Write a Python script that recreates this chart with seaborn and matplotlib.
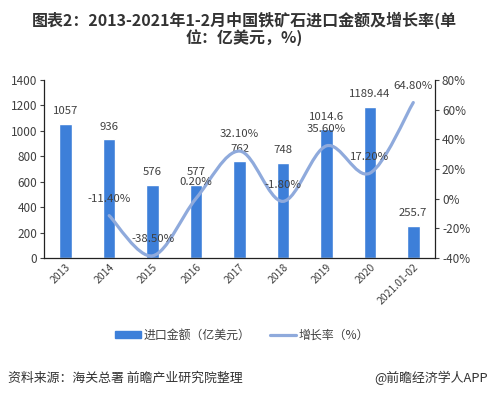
import matplotlib
matplotlib.use("Agg")
import matplotlib.pyplot as plt
from matplotlib.path import Path
from matplotlib.patches import PathPatch
from matplotlib.lines import Line2D
from matplotlib.ticker import FuncFormatter
import pandas as pd
import seaborn as sns

# data
years = ["2013", "2014", "2015", "2016", "2017", "2018", "2019", "2020", "2021.01-02"]
amount = [1057, 936, 576, 577, 762, 748, 1014.6, 1189.44, 255.7]
amount_labels = ["1057", "936", "576", "577", "762", "748", "1014.6", "1189.44", "255.7"]
growth_years = years[1:]
growth = [-11.40, -38.50, 0.20, 32.10, -1.80, 35.60, 17.20, 64.80]

bar_color = "#3D7FD9"
line_color = "#8FAADC"
text_color = "#404040"

sns.set_style("white")
plt.rcParams["font.family"] = ["Noto Sans CJK SC", "DejaVu Sans"]
plt.rcParams["axes.unicode_minus"] = False

df = pd.DataFrame({"year": years, "amount": amount})

fig = plt.figure(figsize=(4.89, 3.97), dpi=100)
ax = fig.add_axes([0.090, 0.350, 0.7996, 0.4485])
sns.barplot(data=df, x="year", y="amount", color=bar_color, width=0.29,
            saturation=1, ax=ax)
ax.set_ylim(0, 1400)
ax.set_yticks(range(0, 1401, 200))
ax.set_xlim(-0.5, len(years) - 0.5)
ax.set_xlabel("")
ax.set_ylabel("")
ax.tick_params(axis="y", labelsize=8.5, colors=text_color, length=3, width=0.8,
               direction="out", pad=2)
ax.tick_params(axis="x", labelsize=7.5, colors=text_color, length=0, pad=3)
for lab in ax.get_xticklabels():
    lab.set_rotation(45)
    lab.set_ha("right")
    lab.set_rotation_mode("anchor")
for s in ["left", "bottom"]:
    ax.spines[s].set_color("#222222")
    ax.spines[s].set_linewidth(0.9)
ax.spines["top"].set_visible(False)
ax.spines["right"].set_visible(False)

for i, (v, t) in enumerate(zip(amount, amount_labels)):
    ax.annotate(t, (i, v), xytext=(0, 9), textcoords="offset points",
                ha="center", va="center", fontsize=8.2, color=text_color)

ax2 = ax.twinx()
ax2.set_ylim(-40, 80)
ax2.set_yticks(range(-40, 81, 20))
ax2.yaxis.set_major_formatter(FuncFormatter(lambda v, p: f"{int(v)}%"))
ax2.tick_params(axis="y", labelsize=8.5, colors=text_color, length=3, width=0.8,
                direction="out", pad=2)
for s in ["top", "left", "bottom"]:
    ax2.spines[s].set_visible(False)
ax2.spines["right"].set_color("#222222")
ax2.spines["right"].set_linewidth(0.9)

# smoothed line (cubic bezier through the growth points)
xs = [years.index(y) for y in growth_years]
pts = list(zip(xs, growth))
n = len(pts)
verts = [pts[0]]
codes = [Path.MOVETO]
for i in range(n - 1):
    p0 = pts[i - 1] if i > 0 else pts[i]
    p1 = pts[i]
    p2 = pts[i + 1]
    p3 = pts[i + 2] if i + 2 < n else pts[i + 1]
    c1 = (p1[0] + (p2[0] - p0[0]) / 6, p1[1] + (p2[1] - p0[1]) / 6)
    c2 = (p2[0] - (p3[0] - p1[0]) / 6, p2[1] - (p3[1] - p1[1]) / 6)
    verts += [c1, c2, p2]
    codes += [Path.CURVE4] * 3
ax2.add_patch(PathPatch(Path(verts, codes), facecolor="none",
                        edgecolor=line_color, linewidth=2.3, capstyle="round"))

for x, g in zip(xs, growth):
    ax2.annotate(f"{g:.2f}%", (x, g), xytext=(0, 12), textcoords="offset points",
                 ha="center", va="center", fontsize=8.2, color=text_color)

# legend
handles = [
    plt.Rectangle((0, 0), 1, 1, color=bar_color),
    Line2D([0], [0], color=line_color, linewidth=2.3),
]
fig.legend(handles, ["进口金额（亿美元）", "增长率（%）"], loc="center",
           bbox_to_anchor=(0.495, 0.156), ncol=2, frameon=False, fontsize=8.6,
           handlelength=2.2, handleheight=0.6, handletextpad=0.2,
           columnspacing=1.6, labelcolor=text_color)

fig.text(0.5, 0.972, "图表2：2013-2021年1-2月中国铁矿石进口金额及增长率(单\n位：亿美元，%)",
         ha="center", va="top", fontsize=11.5, fontweight="bold",
         color="#333333", linespacing=1.0)
fig.text(0.016, 0.048, "资料来源：海关总署 前瞻产业研究院整理", ha="left", va="center",
         fontsize=9.3, color="#333333")
fig.text(0.997, 0.048, "@前瞻经济学人APP", ha="right", va="center",
         fontsize=9.3, color="#333333")

fig.savefig("out.png", dpi=100)
